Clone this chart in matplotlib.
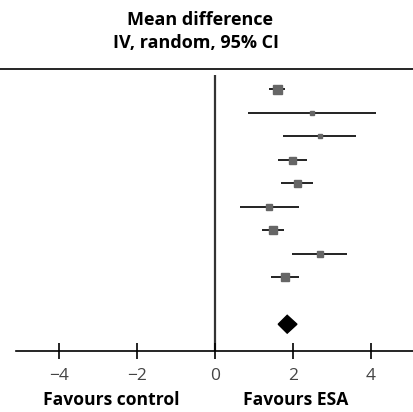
import numpy as np
import matplotlib
matplotlib.use('Agg')
import matplotlib.pyplot as plt
from matplotlib.lines import Line2D

# study estimates (mean difference with 95% CI)
mean_diff = [1.60, 2.49, 2.68, 1.98, 2.09, 1.38, 1.49, 2.69, 1.79]
ci_low = [1.38, 0.85, 1.75, 1.62, 1.69, 0.65, 1.21, 1.97, 1.44]
ci_high = [1.80, 4.12, 3.62, 2.36, 2.50, 2.15, 1.76, 3.39, 2.15]
weights = [9, 4, 5, 7, 7, 6, 8, 6, 8]  # marker size in px

pooled = 1.85
pooled_low = 1.62
pooled_high = 2.10

xticks = [-4, -2, 0, 2, 4]

plt.rcParams['font.family'] = ['Open Sans', 'DejaVu Sans']

fig = plt.figure(figsize=(4.14, 4.12), dpi=100)
W, H = 414, 412
ax = fig.add_axes([16 / W, 1 - 351 / H, (414 - 16) / W, (351 - 75) / H])

rows = np.arange(1, len(mean_diff) + 1)
for y, m, lo, hi, s in zip(rows, mean_diff, ci_low, ci_high, weights):
    ax.plot([lo, hi], [y, y], color='#222222', lw=1.4, solid_capstyle='butt', zorder=2)
    ax.plot(m, y, marker='s', ms=s * 0.72, color='#666666', mec='#666666', zorder=3)

# pooled diamond
dy = 0.38
ax.fill([pooled_low, pooled, pooled_high, pooled],
        [11, 11 - dy, 11, 11 + dy], color='black', zorder=3)

ax.axvline(0, color='#333333', lw=1.6, zorder=1)

ax.set_xlim(-5.1, 5.1)
ax.set_ylim(12.14, 0.39)
for side in ['top', 'right', 'left']:
    ax.spines[side].set_visible(False)
ax.spines['bottom'].set_linewidth(1.2)
ax.set_yticks([])
ax.set_xticks(xticks)
ax.set_xticklabels([str(t).replace('-', '\u2212') for t in xticks])
ax.tick_params(axis='x', direction='inout', length=11, width=1.2,
               labelsize=12.5, pad=7, colors='black')
for lab in ax.get_xticklabels():
    lab.set_color('#444444')

# top rule
fig.add_artist(Line2D([0, 1], [1 - 69 / H, 1 - 69 / H], color='black', lw=1.2))

fig.text(200 / W, 1 - 20 / H, 'Mean difference', ha='center', va='center',
         fontsize=13, fontweight='bold')
fig.text(196 / W, 1 - 43 / H, 'IV, random, 95% CI', ha='center', va='center',
         fontsize=13, fontweight='bold')
fig.text(111 / W, 1 - 400 / H, 'Favours control', ha='center', va='center',
         fontsize=12.6, fontweight='bold')
fig.text(296 / W, 1 - 400 / H, 'Favours ESA', ha='center', va='center',
         fontsize=12.6, fontweight='bold')

fig.savefig('out.png', dpi=100)
